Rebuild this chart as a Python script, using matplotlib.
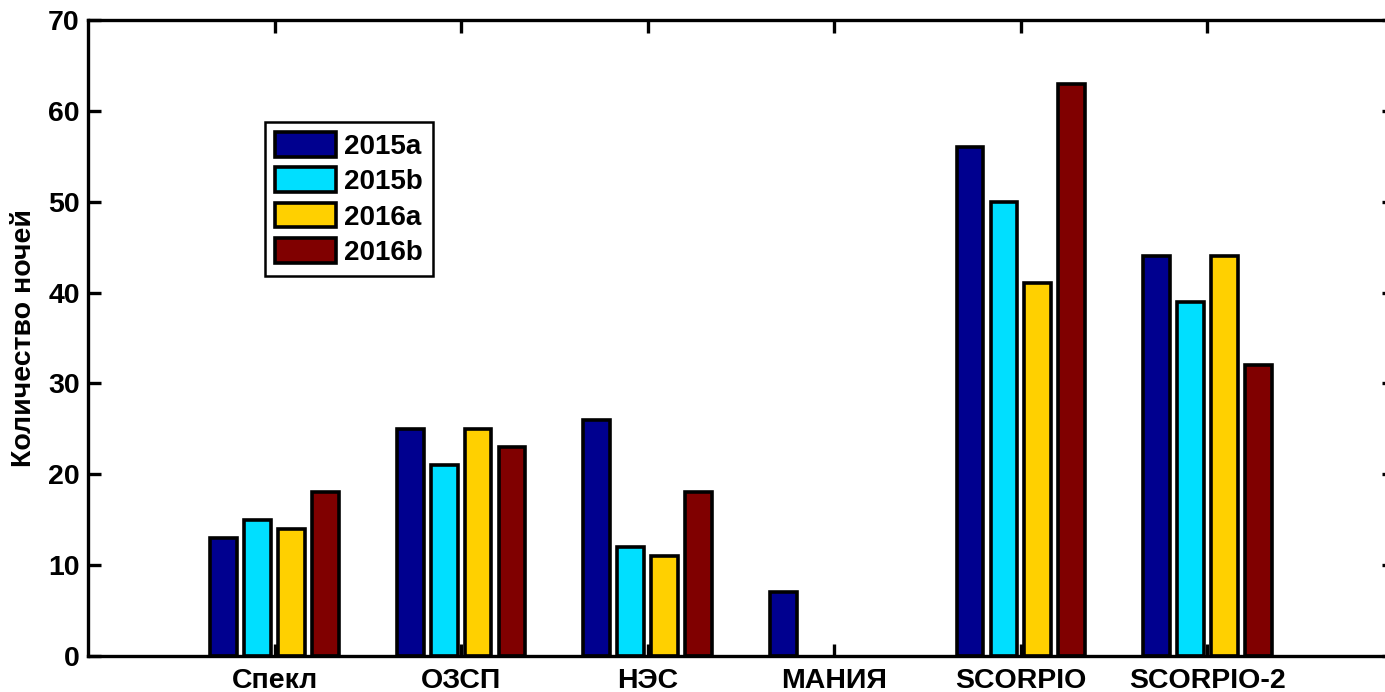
import matplotlib
matplotlib.use("Agg")
import matplotlib.pyplot as plt
import numpy as np

categories = ["Спекл", "ОЗСП", "НЭС", "МАНИЯ", "SCORPIO", "SCORPIO-2"]
series_names = ["2015a", "2015b", "2016a", "2016b"]
v2015a = [13, 25, 26, 7, 56, 44]
v2015b = [15, 21, 12, 0, 50, 39]
v2016a = [14, 25, 11, 0, 41, 44]
v2016b = [18, 23, 18, 0, 63, 32]
colors = ["#00008F", "#00DFFF", "#FFD000", "#800000"]
yticks = [0, 10, 20, 30, 40, 50, 60, 70]

plt.rcParams['font.family'] = ['Liberation Sans', 'DejaVu Sans']
plt.rcParams['font.weight'] = 'bold'

W, H = 1385, 692
fig = plt.figure(figsize=(W / 100, H / 100), dpi=100)
ax = fig.add_axes([88 / W, (H - 656) / H, 1306 / W, 636 / H])

x = np.arange(1, len(categories) + 1)
step = 0.182
width = 0.143
offsets = (np.arange(4) - 1.5) * step
for vals, name, c, off in zip([v2015a, v2015b, v2016a, v2016b], series_names, colors, offsets):
    lws = [2.6 if v > 0 else 0 for v in vals]
    ax.bar(x + off, vals, width=width, color=c, edgecolor='black', linewidth=lws,
           label=name, zorder=2)

ax.set_xlim(0, 7)
ax.set_ylim(0, 70)
ax.set_xticks(x)
ax.set_xticklabels(categories, fontsize=20.5, fontweight='bold')
ax.set_yticks(yticks)
ax.set_yticklabels([str(t) for t in yticks], fontsize=20.5, fontweight='bold')
ax.tick_params(direction='in', length=9, width=2.4, top=True, right=True)
ax.tick_params(axis='x', pad=9)
ax.tick_params(axis='y', pad=6)
for s in ax.spines.values():
    s.set_linewidth(2.4)
    s.set_zorder(2.6)
ax.set_ylabel("Количество ночей", fontsize=20.5, fontweight='bold')
ax.yaxis.set_label_coords(-0.039, 0.5)

leg = ax.legend(loc='upper left', bbox_to_anchor=((265 - 88) / 1306, (656 - 122) / 636),
                borderaxespad=0, fancybox=False, edgecolor='black', framealpha=1,
                prop={'size': 20, 'weight': 'bold'}, handlelength=2.2, handleheight=1.0,
                labelspacing=0.27, handletextpad=0.3, borderpad=0.35)
leg.get_frame().set_linewidth(1.8)
for p in leg.get_patches():
    p.set_linewidth(2.6)
    p.set_edgecolor('black')

fig.savefig("out.png", dpi=100)
